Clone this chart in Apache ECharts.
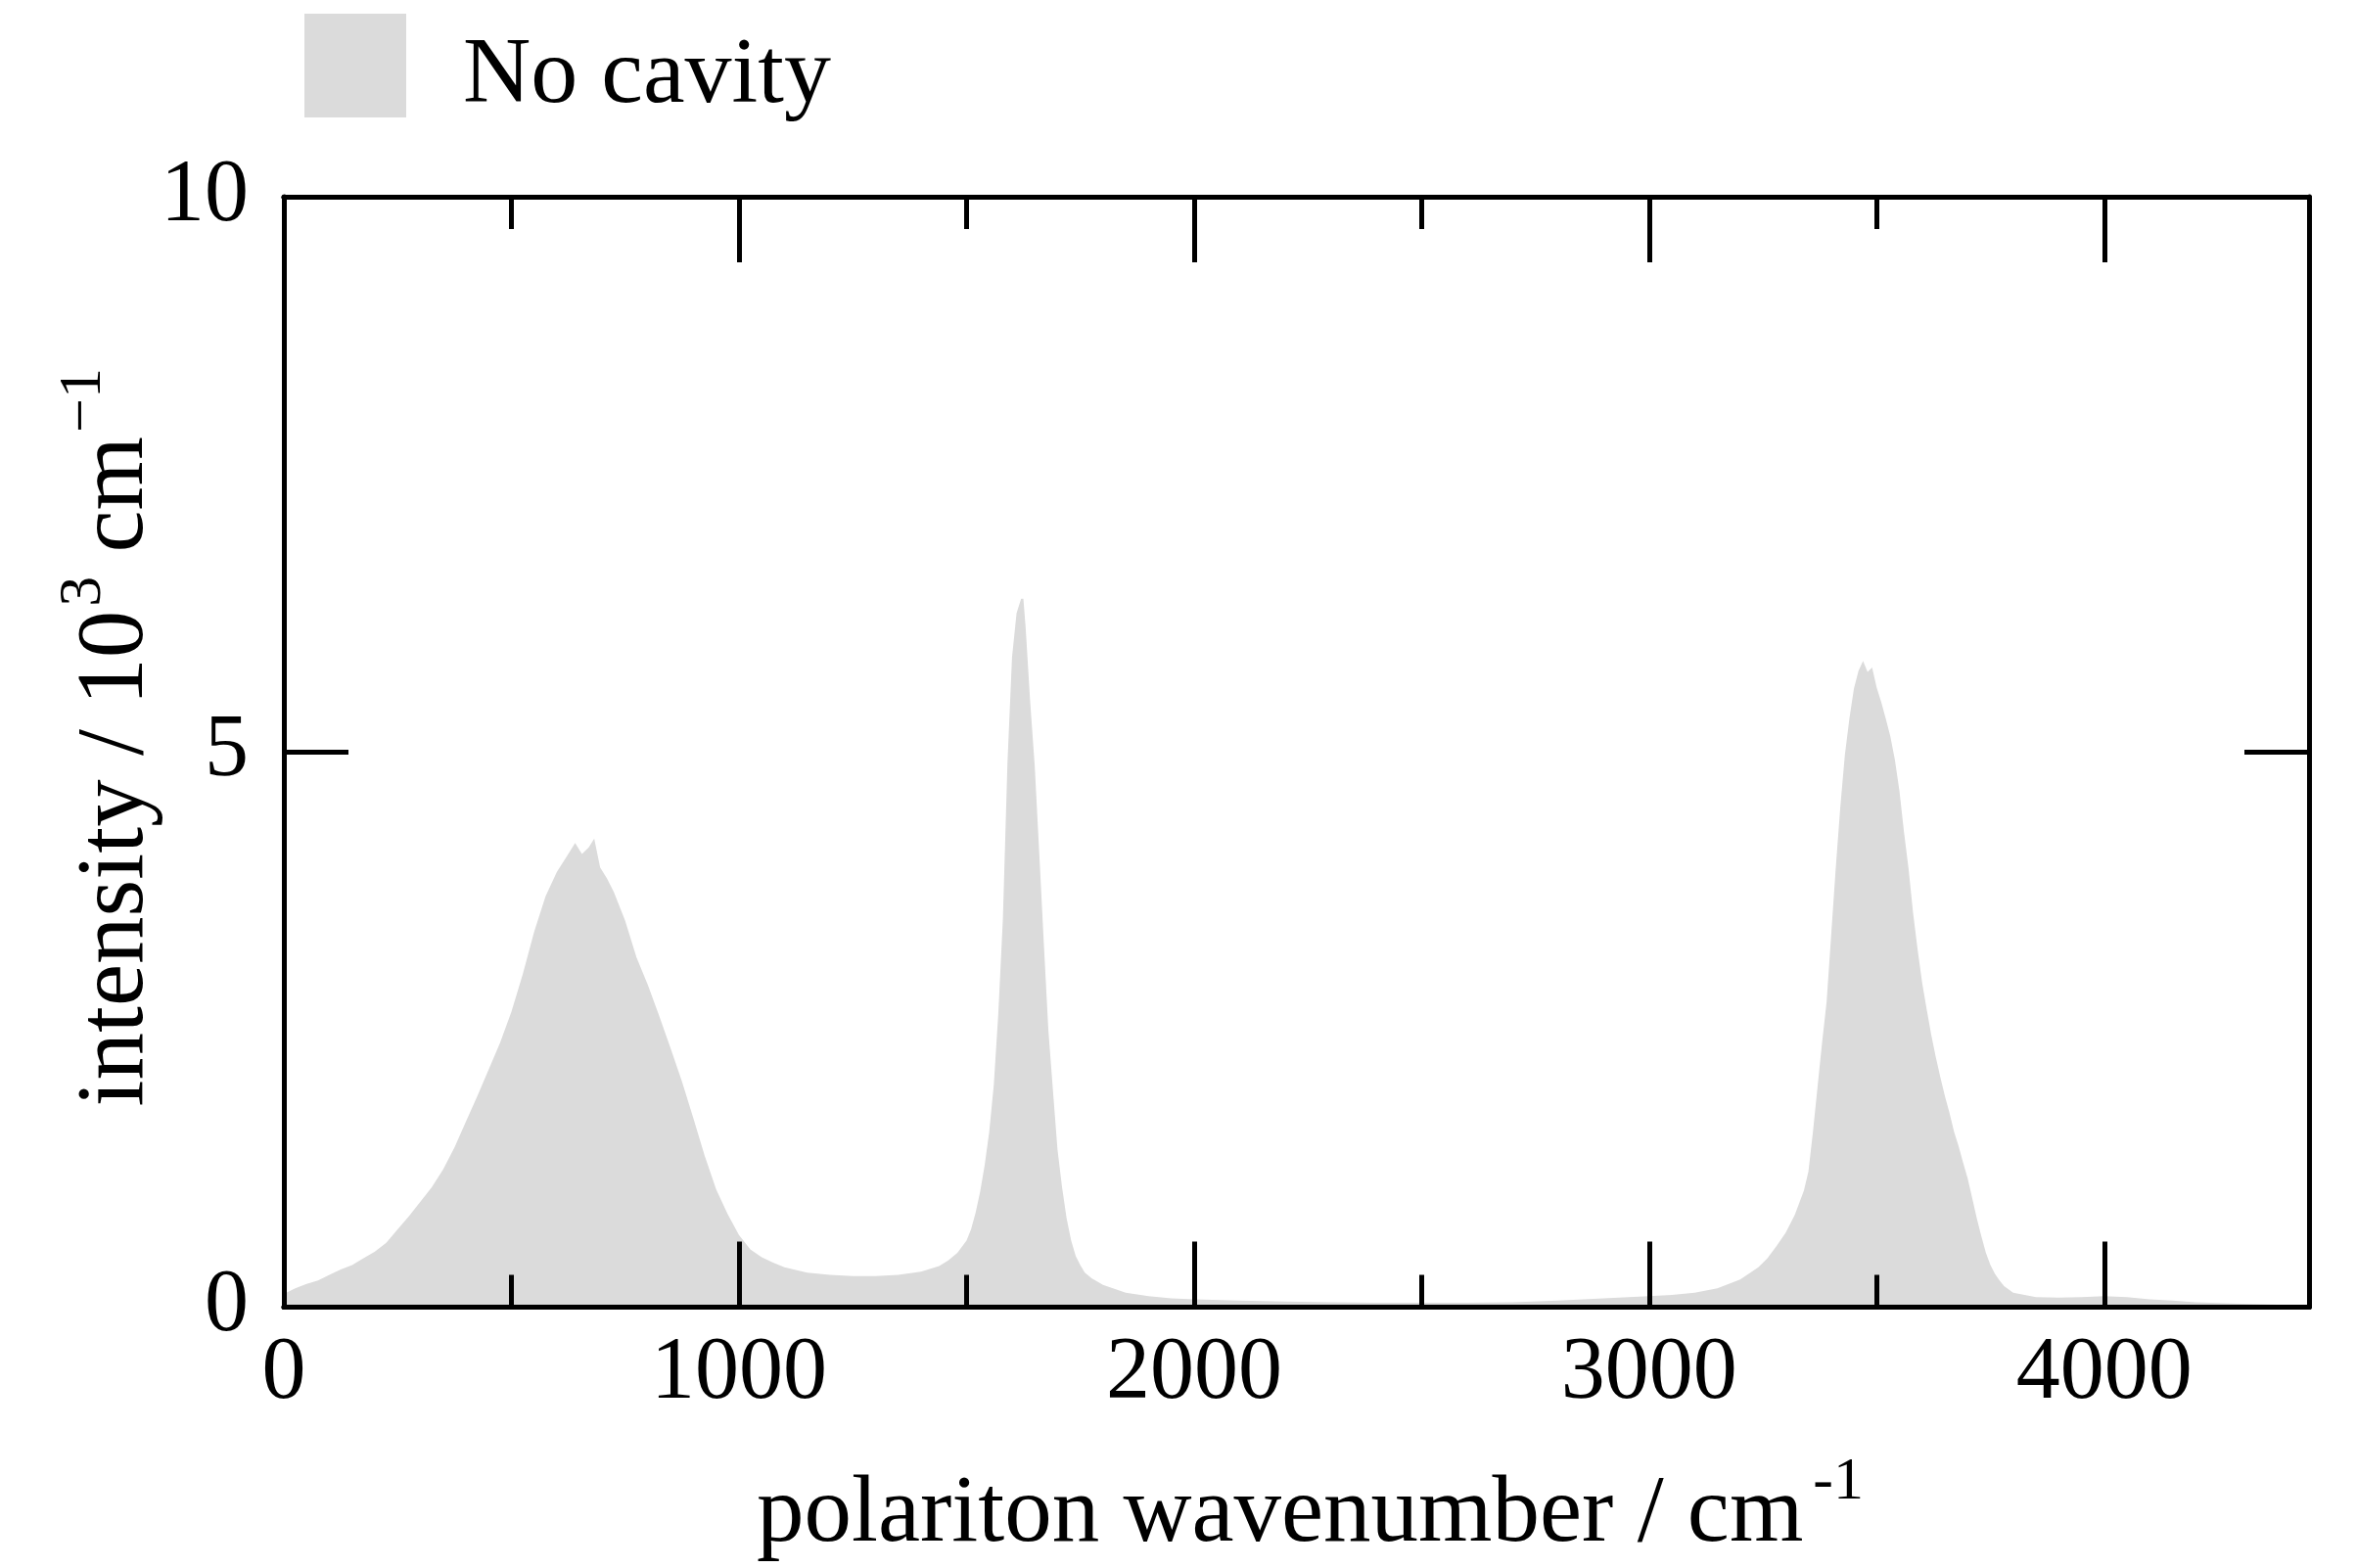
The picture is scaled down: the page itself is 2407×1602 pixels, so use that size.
<!DOCTYPE html>
<html>
<head>
<meta charset="utf-8">
<script src="https://cdn.jsdelivr.net/npm/echarts@6/dist/echarts.min.js"></script>
<style>
  html, body { margin: 0; padding: 0; background: #fff; }
  #chart { width: 2407px; height: 1602px; }
</style>
</head>
<body>
<div id="chart"></div>
<script>
// spectrum (wavenumber in cm^-1, intensity in 10^3 cm^-1)
const wavenumber = [
  0, 25, 50, 75, 100, 125, 150, 175, 200, 225, 250, 275, 300, 325, 350, 375, 400, 425, 450, 475,
  500, 525, 550, 575, 600, 625, 640, 655, 670, 682, 695, 710, 725, 750, 775, 800, 825, 850, 875, 900,
  925, 950, 975, 1000, 1025, 1050, 1075, 1100, 1150, 1200, 1250, 1300, 1350, 1400, 1440, 1460, 1480,
  1500, 1510, 1520, 1530, 1540, 1550, 1560, 1570, 1580, 1590, 1600, 1610, 1620, 1625, 1630, 1640,
  1650, 1660, 1670, 1680, 1690, 1700, 1710, 1720, 1730, 1740, 1750, 1760, 1775, 1800, 1850, 1900,
  1950, 2000, 2100, 2200, 2300, 2400, 2500, 2600, 2700, 2800, 2900, 3000, 3050, 3100, 3150, 3200,
  3240, 3260, 3280, 3300, 3320, 3340, 3350, 3360, 3370, 3380, 3390, 3400, 3410, 3420, 3430, 3440,
  3450, 3460, 3470, 3480, 3490, 3500, 3510, 3520, 3530, 3540, 3550, 3560, 3570, 3580, 3590, 3600,
  3610, 3620, 3630, 3640, 3650, 3660, 3670, 3680, 3690, 3700, 3710, 3720, 3730, 3740, 3750, 3760,
  3770, 3780, 3800, 3850, 3900, 3950, 4000, 4050, 4100, 4150, 4200, 4300, 4400, 4450
];
const noCavity = [
  0.12, 0.17, 0.21, 0.24, 0.29, 0.34, 0.38, 0.44, 0.50, 0.58, 0.70, 0.82, 0.95, 1.08, 1.24, 1.44, 1.67, 1.90, 2.14, 2.38,
  2.66, 3.00, 3.38, 3.70, 3.92, 4.08, 4.18, 4.08, 4.14, 4.22, 3.96, 3.86, 3.74, 3.48, 3.15, 2.90, 2.62, 2.33, 2.03, 1.70,
  1.36, 1.06, 0.84, 0.65, 0.52, 0.45, 0.40, 0.36, 0.31, 0.29, 0.28, 0.28, 0.29, 0.32, 0.37, 0.42, 0.49,
  0.60, 0.70, 0.85, 1.04, 1.28, 1.58, 2.00, 2.65, 3.50, 4.90, 5.85, 6.25, 6.38, 6.38, 6.12, 5.45,
  4.87, 4.08, 3.27, 2.49, 1.95, 1.42, 1.08, 0.80, 0.60, 0.46, 0.38, 0.31, 0.26, 0.20, 0.13, 0.10,
  0.08, 0.07, 0.06, 0.05, 0.045, 0.04, 0.04, 0.04, 0.045, 0.06, 0.08, 0.10, 0.11, 0.13, 0.17, 0.25,
  0.36, 0.44, 0.55, 0.67, 0.83, 1.05, 1.22, 1.58, 1.98, 2.38, 2.75, 3.35, 3.95, 4.50, 4.97, 5.30,
  5.57, 5.73, 5.82, 5.72, 5.76, 5.58, 5.45, 5.30, 5.14, 4.93, 4.65, 4.28, 3.95, 3.55, 3.22, 2.92,
  2.68, 2.45, 2.25, 2.07, 1.90, 1.75, 1.58, 1.45, 1.30, 1.16, 0.98, 0.80, 0.64, 0.49, 0.38, 0.30,
  0.24, 0.19, 0.13, 0.09, 0.085, 0.09, 0.10, 0.09, 0.07, 0.06, 0.045, 0.03, 0.02, 0.02
];
const xTickLabels = [0, 1000, 2000, 3000, 4000];
const yTickLabels = [0, 5, 10];

const FONT = "'Liberation Serif', 'Times New Roman', serif";
const fillColor = "#dbdbdb";
const xMax = 4450;

const chart = echarts.init(document.getElementById("chart"));

let seriesData = [];
for (let i = 0; i < wavenumber.length; i++) {
  seriesData.push([wavenumber[i], noCavity[i]]);
}

// one axis per tick length / side, so the frame has long and short inner ticks
function xAxisOf(position, interval, tickLen, withLabels) {
  return {
    type: "value",
    position: position,
    min: 0,
    max: xMax,
    interval: interval,
    z: 10,
    axisLine: { show: true, onZero: false, lineStyle: { color: "#000", width: 5 } },
    axisTick: { show: true, inside: true, length: tickLen, lineStyle: { color: "#000", width: 5 } },
    axisLabel: {
      show: withLabels,
      margin: 24,
      fontFamily: FONT,
      fontSize: 90,
      color: "#000",
      formatter: function(v) {
        return xTickLabels.indexOf(v) >= 0 ? String(v) : "";
      }
    },
    splitLine: { show: false }
  };
}

function yAxisOf(position, withLabels) {
  return {
    type: "value",
    position: position,
    min: 0,
    max: 10,
    interval: 5,
    z: 10,
    axisLine: { show: true, onZero: false, lineStyle: { color: "#000", width: 5 } },
    axisTick: { show: true, inside: true, length: 66, lineStyle: { color: "#000", width: 5 } },
    axisLabel: {
      show: withLabels,
      margin: 36,
      fontFamily: FONT,
      fontSize: 90,
      color: "#000",
      formatter: function(v) {
        return yTickLabels.indexOf(v) >= 0 ? String(v) : "";
      }
    },
    splitLine: { show: false }
  };
}

function titleRich(gap) {
  return {
    t: { fontFamily: FONT, fontSize: 97, color: "#000", lineHeight: 130 },
    s: { fontFamily: FONT, fontSize: 62, color: "#000", lineHeight: 38, verticalAlign: "top", padding: [0, 0, 0, gap] }
  };
}

let xMain = xAxisOf("bottom", 1000, 67, true);
xMain.name = "{t|polariton wavenumber / cm}{s|-1}";
xMain.nameLocation = "middle";
xMain.nameGap = 148;
xMain.nameMoveOverlap = false;
xMain.nameTextStyle = { rich: titleRich(10), padding: [0, 0, 0, 28] };

let yMain = yAxisOf("left", true);
yMain.name = "{t|intensity / 10}{s|3}{t| cm}{s|\u22121}";
yMain.nameLocation = "middle";
yMain.nameRotate = 90;
yMain.nameGap = 105;
yMain.nameMoveOverlap = false;
yMain.nameTextStyle = { rich: titleRich(4), padding: [0, 0, 0, 30] };

let ChartOption = {
  animation: false,
  backgroundColor: "#fff",
  grid: {
    left: 290,
    right: 48,
    top: 201,
    bottom: 263,
    containLabel: false
  },
  legend: {
    show: true,
    left: 306,
    top: 9,
    icon: "rect",
    itemWidth: 104,
    itemHeight: 106,
    itemStyle: { color: fillColor },
    formatter: "{a|{name}}",
    textStyle: {
      rich: {
        a: { fontFamily: FONT, fontSize: 96, color: "#000", padding: [24, 0, 0, 53] }
      }
    },
    data: ["No cavity"]
  },
  xAxis: [
    xMain,
    xAxisOf("bottom", 500, 33, false),
    xAxisOf("top", 1000, 67, false),
    xAxisOf("top", 500, 33, false)
  ],
  yAxis: [
    yMain,
    yAxisOf("right", false)
  ],
  series: [
    {
      name: "No cavity",
      type: "line",
      xAxisIndex: 0,
      yAxisIndex: 0,
      data: seriesData,
      showSymbol: false,
      symbol: "none",
      color: fillColor,
      lineStyle: { width: 0 },
      areaStyle: { color: fillColor, opacity: 1 },
      z: 2
    }
  ]
};

chart.setOption(ChartOption, true);
</script>
</body>
</html>
